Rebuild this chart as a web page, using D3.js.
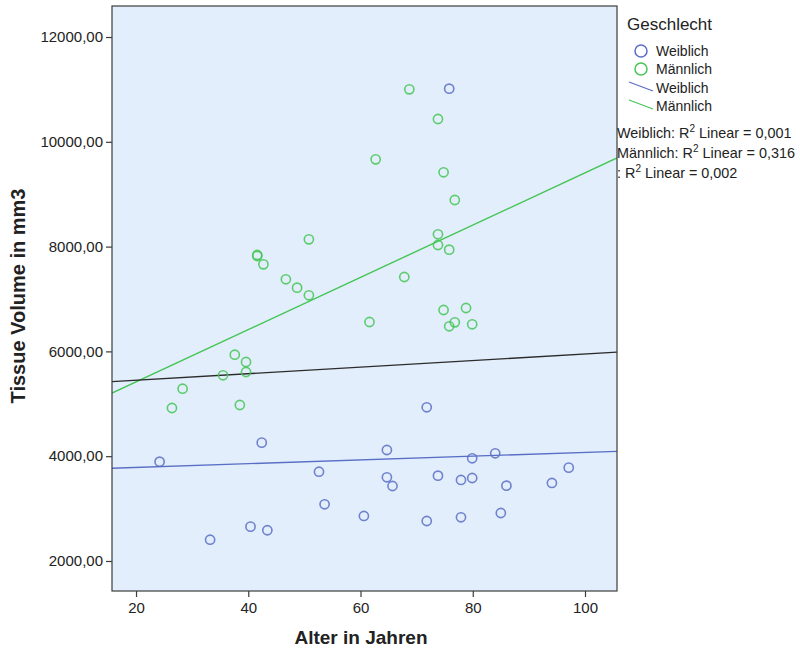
<!DOCTYPE html>
<html>
<head>
<meta charset="utf-8">
<script src="https://cdn.jsdelivr.net/npm/d3@7"></script>
<style>
  html, body { margin: 0; padding: 0; background: #ffffff; }
  svg { display: block; }
  text { font-family: "Liberation Sans", Arial, sans-serif; fill: #222; }
</style>
</head>
<body>
<svg id="chart" width="800" height="652"></svg>
<script>
// ---- Data ----
const femaleAge = [24.2, 33.2, 40.4, 42.4, 43.4, 52.6, 53.6, 60.6, 64.7, 64.7, 65.7, 71.8, 71.8, 73.8, 75.8, 77.9, 77.9, 79.9, 79.9, 84.0, 85.0, 86.0, 94.1, 97.1];
const femaleVol = [3895, 2406, 2655, 4258, 2586, 3704, 3082, 2859, 4118, 3597, 3431, 4933, 2763, 3628, 11014, 3546, 2834, 3960, 3584, 4055, 2916, 3437, 3489, 3781];

const maleAge = [26.4, 28.3, 35.5, 37.6, 38.5, 39.6, 39.6, 41.6, 41.6, 42.7, 46.7, 48.7, 50.8, 50.8, 61.6, 62.7, 67.8, 68.7, 73.8, 73.8, 73.8, 74.8, 74.8, 75.8, 75.8, 76.8, 76.8, 78.8, 79.9];
const maleVol = [4920, 5288, 5544, 5937, 4977, 5798, 5607, 7840, 7820, 7662, 7376, 7216, 8139, 7071, 6561, 9666, 7420, 11002, 10435, 8235, 8031, 9418, 6790, 7941, 6479, 8889, 6555, 6828, 6517];

// Fit lines (intercept, slope)
const fitNames = ["Weiblich", "Männlich", "Insgesamt"];
const fitIntercepts = [3715, 4422, 5324];
const fitSlopes = [3.57, 49.85, 6.26];

const legendLabels = ["Weiblich", "Männlich"];
const r2Labels = ["Weiblich: ", "Männlich: ", ": "];
const r2Values = ["0,001", "0,316", "0,002"];

const xTicks = [20, 40, 60, 80, 100];
const yTicks = [2000, 4000, 6000, 8000, 10000, 12000];

// ---- Layout ----
const plot = { left: 112, top: 6, right: 617, bottom: 591 };
const colFemale = "#5a6ec6";
const colMale = "#45c556";
const colTotal = "#2b2b2b";
const bg = "#e2eefb";

const svg = d3.select("#chart");

const x = d3.scaleLinear().domain([15.72, 105.7]).range([plot.left, plot.right]);
const y = d3.scaleLinear().domain([1427, 12592]).range([plot.bottom, plot.top]);

const locale = d3.formatLocale({ decimal: ",", thousands: "", grouping: [3], currency: ["", "€"] });
const fmt = locale.format(".2f");

// plot background
svg.append("rect")
  .attr("x", plot.left).attr("y", plot.top)
  .attr("width", plot.right - plot.left).attr("height", plot.bottom - plot.top)
  .attr("fill", bg);

const g = svg.append("g");
svg.append("clipPath").attr("id", "pc").append("rect")
  .attr("x", plot.left).attr("y", plot.top)
  .attr("width", plot.right - plot.left).attr("height", plot.bottom - plot.top);

// fit lines
const lineColors = [colFemale, colMale, colTotal];
const [a0, a1] = x.domain();
fitNames.forEach((n, i) => {
  g.append("line")
    .attr("clip-path", "url(#pc)")
    .attr("x1", x(a0)).attr("y1", y(fitIntercepts[i] + fitSlopes[i] * a0))
    .attr("x2", x(a1)).attr("y2", y(fitIntercepts[i] + fitSlopes[i] * a1))
    .attr("stroke", lineColors[i]).attr("stroke-width", 1.4);
});

// points
const fem = femaleAge.map((a, i) => ({ a, v: femaleVol[i] }));
const mal = maleAge.map((a, i) => ({ a, v: maleVol[i] }));
g.selectAll("circle.f").data(fem).enter().append("circle")
  .attr("class", "f")
  .attr("cx", d => x(d.a)).attr("cy", d => y(d.v)).attr("r", 4.6)
  .attr("fill", "none").attr("stroke", colFemale).attr("stroke-width", 1.6).attr("stroke-opacity", 0.85);
g.selectAll("circle.m").data(mal).enter().append("circle")
  .attr("class", "m")
  .attr("cx", d => x(d.a)).attr("cy", d => y(d.v)).attr("r", 4.6)
  .attr("fill", "none").attr("stroke", colMale).attr("stroke-width", 1.6).attr("stroke-opacity", 0.85);

// frame
svg.append("rect")
  .attr("x", plot.left).attr("y", plot.top)
  .attr("width", plot.right - plot.left).attr("height", plot.bottom - plot.top)
  .attr("fill", "none").attr("stroke", "#3c3c3c").attr("stroke-width", 1.2);

// axes
const yAxis = d3.axisLeft(y).tickValues(yTicks).tickFormat(fmt).tickSize(6).tickPadding(3);
const yg = svg.append("g").attr("transform", `translate(${plot.left},0)`).call(yAxis);
yg.select(".domain").remove();
yg.selectAll(".tick line").attr("stroke", "#3c3c3c").attr("stroke-width", 1.2);
yg.selectAll(".tick text").style("font-family", "'Liberation Sans', Arial, sans-serif").style("font-size", "15px").attr("fill", "#222");

const xAxis = d3.axisBottom(x).tickValues(xTicks).tickFormat(d3.format("d")).tickSize(6).tickPadding(5);
const xg = svg.append("g").attr("transform", `translate(0,${plot.bottom})`).call(xAxis);
xg.select(".domain").remove();
xg.selectAll(".tick line").attr("stroke", "#3c3c3c").attr("stroke-width", 1.2);
xg.selectAll(".tick text").style("font-family", "'Liberation Sans', Arial, sans-serif").style("font-size", "15px").attr("fill", "#222");

// axis titles
svg.append("text")
  .attr("x", 361).attr("y", 644)
  .attr("text-anchor", "middle")
  .style("font-size", "19px").style("font-weight", "bold")
  .text("Alter in Jahren");
svg.append("text")
  .attr("transform", "translate(25,296) rotate(-90)")
  .attr("text-anchor", "middle")
  .style("font-size", "20px").style("font-weight", "bold")
  .text("Tissue Volume in mm3");

// legend
svg.append("text").attr("x", 627).attr("y", 30).style("font-size", "17px").text("Geschlecht");
const legCols = [colFemale, colMale];
legendLabels.forEach((lab, i) => {
  const cy = 51 + i * 18;
  svg.append("circle").attr("cx", 641).attr("cy", cy).attr("r", 6)
    .attr("fill", "none").attr("stroke", legCols[i]).attr("stroke-width", 1.5);
  svg.append("text").attr("x", 656).attr("y", cy + 5).style("font-size", "14px").text(lab);
});
legendLabels.forEach((lab, i) => {
  const cy = 88 + i * 18;
  svg.append("line").attr("x1", 629).attr("y1", cy - 6).attr("x2", 653).attr("y2", cy + 3)
    .attr("stroke", legCols[i]).attr("stroke-width", 1.3);
  svg.append("text").attr("x", 656).attr("y", cy + 5).style("font-size", "14px").text(lab);
});

// R² annotations
r2Labels.forEach((lab, i) => {
  const t = svg.append("text").attr("x", 617).attr("y", 138 + i * 20).style("font-size", "14.4px");
  t.append("tspan").text(lab + "R");
  t.append("tspan").attr("dy", -6).style("font-size", "10px").text("2");
  t.append("tspan").attr("dy", 6).text(" Linear = " + r2Values[i]);
});
</script>
</body>
</html>
